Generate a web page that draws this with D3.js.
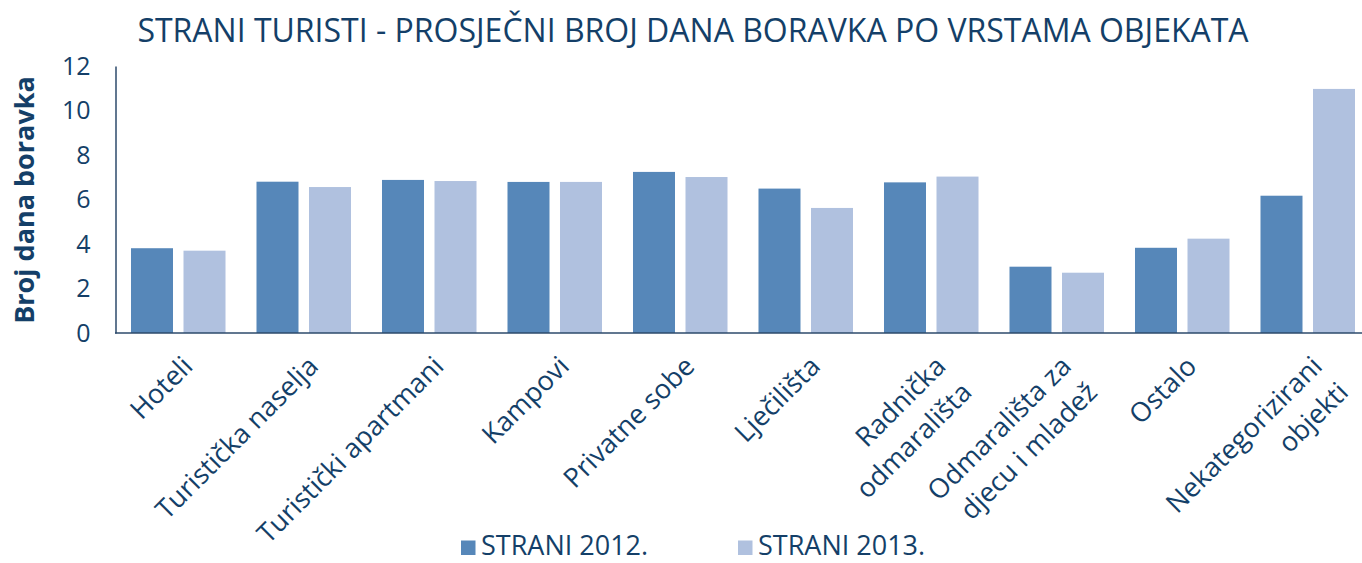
<!DOCTYPE html>
<html>
<head>
<meta charset="utf-8">
<script src="https://cdn.jsdelivr.net/npm/d3@7"></script>
<style>
  html, body { margin: 0; padding: 0; background: #fff; }
  svg { display: block; font-family: "Open Sans", sans-serif; }
</style>
</head>
<body>
<svg id="chart" width="1362" height="563"></svg>
<script>
// ── Data ─────────────────────────────────────────────────────────────
const categories = [
    "Hoteli",
    "Turistička naselja",
    "Turistički apartmani",
    "Kampovi",
    "Privatne sobe",
    "Lječilišta",
    "Radnička\nodmarališta",
    "Odmarališta za\ndjecu i mladež",
    "Ostalo",
    "Nekategorizirani\nobjekti"
];
const seriesNames = ["STRANI 2012.", "STRANI 2013."];
const values2012 = [3.81, 6.80, 6.88, 6.79, 7.24, 6.49, 6.77, 2.98, 3.83, 6.17];
const values2013 = [3.70, 6.56, 6.83, 6.79, 7.01, 5.62, 7.03, 2.71, 4.24, 10.97];
const yTicks = [0, 2, 4, 6, 8, 10, 12];

const colors = ["#5687b9", "#b0c1df"];
const textColor = "#143f68";
const axisColor = "#2d4a6b";

const W = 1362, H = 563;
const svg = d3.select("#chart");

// ── Scales ───────────────────────────────────────────────────────────
const x = d3.scaleBand().domain(categories).range([115.5, 1370.5]).padding(0);
const xs = d3.scaleBand().domain(seriesNames).range([0, x.bandwidth()])
    .paddingInner(0.2).paddingOuter(0.295);
const y = d3.scaleLinear().domain([0, 12]).range([333, 66]);

const rows = categories.map((c, i) => ({ cat: c, vals: [values2012[i], values2013[i]] }));

// ── Bars ─────────────────────────────────────────────────────────────
const groups = svg.append("g").selectAll("g")
    .data(rows).enter().append("g")
    .attr("transform", d => `translate(${x(d.cat)},0)`);

groups.selectAll("rect")
    .data(d => d.vals.map((v, k) => ({ s: seriesNames[k], v, k })))
    .enter().append("rect")
    .attr("x", d => xs(d.s))
    .attr("width", xs.bandwidth())
    .attr("y", d => y(d.v))
    .attr("height", d => y(0) - y(d.v))
    .attr("fill", d => colors[d.k]);

// ── Axes ─────────────────────────────────────────────────────────────
const yAxis = svg.append("g")
    .attr("transform", "translate(115.5,0)")
    .call(d3.axisLeft(y).tickValues(yTicks).tickSize(0).tickPadding(25));
yAxis.select(".domain").attr("stroke", axisColor).attr("stroke-width", 1.5);
yAxis.selectAll("text")
    .attr("fill", textColor).attr("font-size", 25)
    .attr("font-family", "Open Sans");

svg.append("line")
    .attr("x1", 115).attr("x2", W)
    .attr("y1", y(0)).attr("y2", y(0))
    .attr("stroke", axisColor).attr("stroke-width", 1.5);

// category labels, rotated -45°, lines right-aligned
const labelSize = 27;
const labelG = svg.append("g");
categories.forEach(c => {
    const cx = x(c) + x.bandwidth() / 2;
    const g = labelG.append("g")
        .attr("transform", `translate(${cx + 16},${368}) rotate(-45)`);
    c.split("\n").forEach((ln, i) => {
        g.append("text")
            .attr("x", 0).attr("y", i * labelSize * 1.362)
            .attr("text-anchor", "end")
            .attr("fill", textColor).attr("font-size", labelSize)
            .text(ln);
    });
});

// ── Titles ───────────────────────────────────────────────────────────
svg.append("text")
    .attr("x", 693).attr("y", 42)
    .attr("text-anchor", "middle")
    .attr("fill", textColor).attr("font-size", 32)
    .text("STRANI TURISTI - PROSJEČNI BROJ DANA BORAVKA PO VRSTAMA OBJEKATA");

svg.append("text")
    .attr("transform", "translate(34,200) rotate(-90)")
    .attr("text-anchor", "middle")
    .attr("fill", textColor).attr("font-size", 27).attr("font-weight", 700)
    .text("Broj dana boravka");

// ── Legend ───────────────────────────────────────────────────────────
const legendX = [461, 738];
seriesNames.forEach((s, k) => {
    svg.append("rect")
        .attr("x", legendX[k]).attr("y", 540.5)
        .attr("width", 14.5).attr("height", 14.5)
        .attr("fill", colors[k]);
    svg.append("text")
        .attr("x", legendX[k] + 20).attr("y", 555)
        .attr("fill", textColor).attr("font-size", 27)
        .text(s);
});
</script>
</body>
</html>
